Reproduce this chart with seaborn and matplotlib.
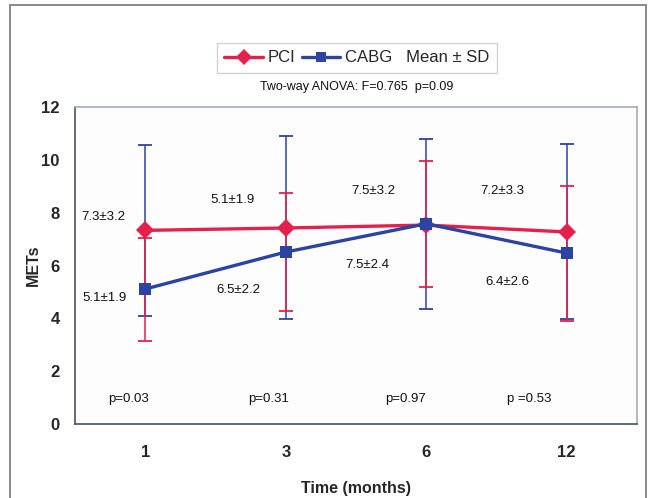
import pandas as pd
import seaborn as sns
import matplotlib.pyplot as plt
from matplotlib.lines import Line2D
from matplotlib.patches import Rectangle

# Values
months = ['1', '3', '6', '12']
pci_mean = [7.33, 7.42, 7.53, 7.27]
pci_low = [3.15, 4.29, 5.19, 3.90]
pci_high = [7.05, 8.75, 9.94, 9.00]
cabg_mean = [5.11, 6.51, 7.58, 6.47]
cabg_low = [4.10, 3.97, 4.36, 3.99]
cabg_high = [10.57, 10.90, 10.80, 10.60]

stat_labels = ['7.3±3.2', '5.1±1.9', '5.1±1.9', '6.5±2.2',
               '7.5±3.2', '7.5±2.4', '7.2±3.3', '6.4±2.6']
stat_pos = [(-0.30, 7.84), (-0.29, 4.77), (0.62, 8.48), (0.66, 5.08),
            (1.62, 8.83), (1.58, 6.02), (2.54, 8.83), (2.58, 5.38)]
p_labels = ['p=0.03', 'p=0.31', 'p=0.97', 'p =0.53']
p_x = [-0.12, 0.88, 1.85, 2.73]

RED = '#E5204C'
BLUE = '#2B44A3'

sns.set_style('white')
plt.rcParams['font.family'] = ['Liberation Sans', 'DejaVu Sans']

df = pd.DataFrame({
    'pos': list(range(len(months))) * 2,
    'mets': pci_mean + cabg_mean,
    'group': ['PCI'] * len(months) + ['CABG'] * len(months),
})

fig = plt.figure(figsize=(6.56, 4.98), dpi=100)
ax = fig.add_axes([75 / 656, 74 / 498, 562 / 656, 317 / 498])

# error bars (blue first, red on top)
xs = list(range(len(months)))
for low, high, col in [(cabg_low, cabg_high, BLUE), (pci_low, pci_high, RED)]:
    ax.vlines(xs, low, high, color=col, lw=1.1, zorder=2)
    ax.plot(xs, low, ls='none', marker='_', ms=10, mew=1.3, color=col, zorder=2)
    ax.plot(xs, high, ls='none', marker='_', ms=10, mew=1.3, color=col, zorder=2)

sns.lineplot(data=df, x='pos', y='mets', hue='group', style='group',
             hue_order=['PCI', 'CABG'], palette={'PCI': RED, 'CABG': BLUE},
             markers={'PCI': 'D', 'CABG': 's'}, dashes=False,
             markersize=9, markeredgewidth=0, linewidth=2.4,
             legend=False, ax=ax, zorder=3)

for txt, (x, y) in zip(stat_labels, stat_pos):
    ax.text(x, y, txt, ha='center', va='center', fontsize=9.5, color='#111111')
for txt, x in zip(p_labels, p_x):
    ax.text(x, 0.95, txt, ha='center', va='center', fontsize=9.5, color='#111111')

ax.set_xlim(-0.5, 3.5)
ax.set_ylim(0, 12)
ax.set_yticks(range(0, 13, 2))
ax.set_xticks(xs)
ax.set_xticklabels(months)
ax.set_xticks([0.5, 1.5, 2.5], minor=True)
ax.tick_params(axis='x', which='major', length=0, pad=15, labelsize=12)
ax.tick_params(axis='x', which='minor', length=5, direction='inout', color='#555555')
ax.tick_params(axis='y', length=4, direction='out', color='#555555', labelsize=12, pad=7)
for lab in ax.get_xticklabels() + ax.get_yticklabels():
    lab.set_fontweight('bold')

ax.set_xlabel('Time (months)', fontsize=11.5, fontweight='bold')
ax.set_ylabel('METs', fontsize=11.5, fontweight='bold')
ax.xaxis.set_label_coords((356 - 75) / 562, (424 - 488) / 317)
ax.yaxis.set_label_coords((33 - 75) / 562, 0.5)
ax.xaxis.label.set_va('center')
ax.yaxis.label.set_va('center')

ax.set_facecolor('#fdfdfe')
for side in ['top', 'right']:
    ax.spines[side].set_color('#a4adba')
    ax.spines[side].set_linewidth(1.2)
for side in ['left', 'bottom']:
    ax.spines[side].set_color('#4a5060')
    ax.spines[side].set_linewidth(1.2)

handles = [Line2D([], [], color=RED, marker='D', ms=8, mew=0, lw=2.4),
           Line2D([], [], color=BLUE, marker='s', ms=7.5, mew=0, lw=2.4)]
leg = fig.legend(handles, ['PCI', 'CABG   Mean ± SD'], ncol=2,
                 loc='center', bbox_to_anchor=(357 / 656, 1 - 58 / 498),
                 fontsize=12, frameon=True, fancybox=False,
                 handlelength=2.3, handletextpad=0.3, columnspacing=0.4,
                 borderpad=0.45, edgecolor='#c8c8c8')
leg.get_frame().set_linewidth(1.0)

fig.text(357 / 656, 1 - 87 / 498, 'Two-way ANOVA: F=0.765  p=0.09',
         ha='center', va='center', fontsize=9, color='#111111')

# outer frame
fig.patches.append(Rectangle((10 / 656, -0.02), 636 / 656, 1 - 5 / 498 + 0.02,
                             transform=fig.transFigure, fill=False,
                             edgecolor='#808080', lw=1.3))

fig.savefig('out.png', dpi=100)
